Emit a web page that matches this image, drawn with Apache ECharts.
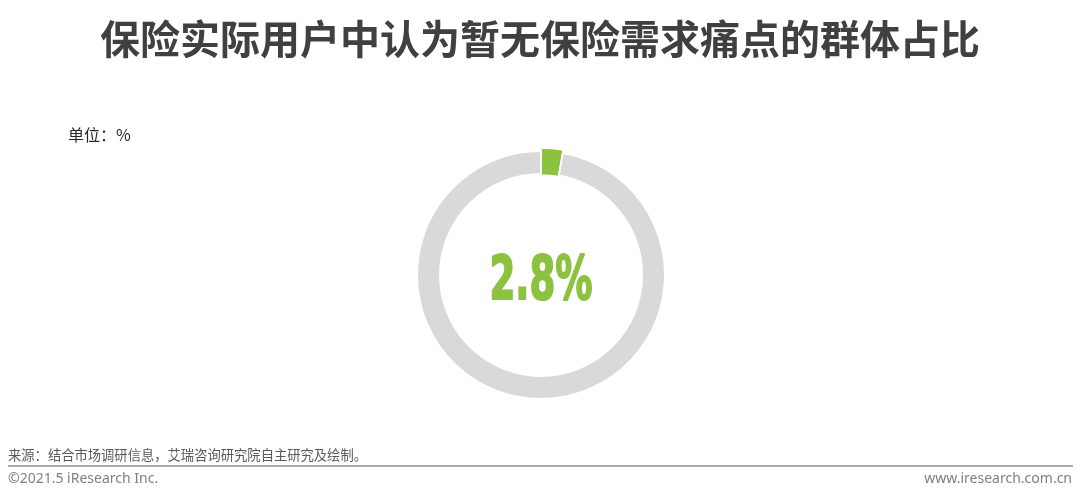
<!DOCTYPE html>
<html><head><meta charset="utf-8">
<script src="https://cdn.jsdelivr.net/npm/echarts@6/dist/echarts.min.js"></script>
<style>html,body{margin:0;padding:0;background:#fff}#c{width:1080px;height:502px}</style>
</head><body><div id="c"></div>
<script>
const titleText = '保险实际用户中认为暂无保险需求痛点的群体占比';
const unitText = '单位：%';
const categories = ['暂无保险需求痛点', '其他'];
const values = [2.8, 97.2];
const sourceText = '来源：结合市场调研信息，艾瑞咨询研究院自主研究及绘制。';
const copyrightText = '©2021.5 iResearch Inc.';
const siteText = 'www.iresearch.com.cn';

const GREEN = '#8CC23F', GRAY = '#D9D9D9';
const chart = echarts.init(document.getElementById('c'));
const CJK = '"Noto Sans CJK SC","Microsoft YaHei",sans-serif';
const mk = (highlight) => categories.map((n, i) => ({
  name: n, value: values[i],
  itemStyle: {color: i === 0 ? (highlight ? GREEN : 'rgba(0,0,0,0)') : (highlight ? 'rgba(0,0,0,0)' : GRAY),
              borderColor: (i === 0 && !highlight) ? 'rgba(0,0,0,0)' : '#fff'}
}));
const base = {type: 'pie', center: [541, 275], startAngle: 90, clockwise: true,
  label: {show: false}, labelLine: {show: false}, emphasis: {disabled: true}, silent: true};
chart.setOption({
  animation: false,
  title: {
    text: titleText, left: 'center', top: 14,
    textStyle: {fontFamily: CJK, fontSize: 40, fontWeight: 'bold', color: '#404040'}
  },
  graphic: [
    {type: 'text', left: 68, top: 127, style: {text: unitText, font: '16px ' + CJK, fill: '#262626'}},
    {type: 'text', left: 8, top: 448, style: {text: sourceText, font: '13.3px ' + CJK, fill: '#595959'}},
    {type: 'line', shape: {x1: 8, y1: 466, x2: 1073, y2: 466}, style: {stroke: '#8c8c8c', lineWidth: 1.5}},
    {type: 'text', left: 8, top: 472, style: {text: copyrightText, font: '14px "Noto Sans",sans-serif', fill: '#7f7f7f'}},
    {type: 'text', right: 8, top: 472, style: {text: siteText, font: '14px "Noto Sans",sans-serif', fill: '#7f7f7f'}},
    {type: 'text', x: 541, y: 283, scaleX: 0.62, z: 10,
     style: {x: 0, y: 0, text: values[0] + '%', font: 'bold 60px "DejaVu Sans",sans-serif', fill: GREEN,
             stroke: GREEN, lineWidth: 2, align: 'center', verticalAlign: 'middle'}}
  ],
  series: [
    Object.assign({}, base, {radius: [101, 124], itemStyle: {borderWidth: 2}, data: mk(false)}),
    Object.assign({}, base, {radius: [100, 127], itemStyle: {borderWidth: 1.5}, data: mk(true)})
  ]
});
</script></body></html>
